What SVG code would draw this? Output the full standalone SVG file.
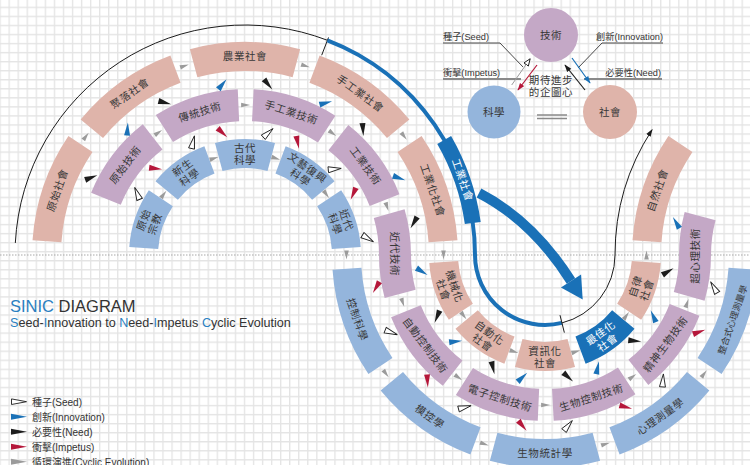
<svg xmlns="http://www.w3.org/2000/svg" width="750" height="465" viewBox="0 0 750 465">
<style>
.soc{fill:#dfb4aa}.tec{fill:#c4a8c6}.sci{fill:#94b5dc}.acc{fill:#1a71b7}
.lb{font-family:"Noto Sans CJK TC","Noto Sans CJK SC",sans-serif;font-size:10.5px;fill:#383838;text-anchor:middle;letter-spacing:0.6px}
.sm{font-size:9px;letter-spacing:0.1px}
.wt{fill:#fff}
.g{fill:#9b9b9b}.bl{fill:#1a71b7}.bk{fill:#1c1c1c}.rd{fill:#b5173a}.sd{fill:#fff;stroke:#1c1c1c;stroke-width:0.9px}
.lat{font-family:"Liberation Sans","Noto Sans CJK TC",sans-serif;fill:#333}
.ins{font-family:"Liberation Sans","Noto Sans CJK TC",sans-serif;fill:#333;font-size:9.2px}
</style>
<defs>
<pattern id="grid" width="9.05" height="9.05" patternUnits="userSpaceOnUse" x="-0.55" y="6.65">
<path d="M0,0.65 H9.05 M0.65,0 V9.05" stroke="#e4e4e4" stroke-width="1.3" fill="none"/>
</pattern>
<path id="segO" d="M205.74,-55.13 A213,213 0 0 1 205.74,55.13 L177.73,47.62 A184,184 0 0 0 177.73,-47.62 Z"/>
<path id="segM" d="M160.34,-42.96 A166,166 0 0 1 160.34,42.96 L129.43,34.68 A134,134 0 0 0 129.43,-34.68 Z"/>
<path id="segI" d="M112.05,-30.02 A116,116 0 0 1 112.05,30.02 L84.04,22.52 A87,87 0 0 0 84.04,-22.52 Z"/>
<polygon id="ga" points="-4.5,-2.3 4.5,0 -4.5,2.3"/>
<polygon id="ca" points="-6.5,-3 6.5,0 -6.5,3"/>
<marker id="mK" viewBox="0 0 10 8" refX="9" refY="4" markerWidth="8" markerHeight="6" orient="auto" markerUnits="userSpaceOnUse"><path d="M0,0.5 L10,4 L0,7.5 Z" fill="#1c1c1c"/></marker>
<marker id="mS" viewBox="0 0 10 8" refX="9" refY="4" markerWidth="8" markerHeight="6.4" orient="auto" markerUnits="userSpaceOnUse"><path d="M0.6,0.6 L9.4,4 L0.6,7.4 Z" fill="#fff" stroke="#1c1c1c" stroke-width="1.1"/></marker>
<marker id="mR" viewBox="0 0 10 8" refX="9" refY="4" markerWidth="8" markerHeight="6" orient="auto" markerUnits="userSpaceOnUse"><path d="M0,0.5 L10,4 L0,7.5 Z" fill="#b5173a"/></marker>
<marker id="mB" viewBox="0 0 10 8" refX="9" refY="4" markerWidth="8" markerHeight="6" orient="auto" markerUnits="userSpaceOnUse"><path d="M0,0.5 L10,4 L0,7.5 Z" fill="#1a71b7"/></marker>
</defs>

<rect width="750" height="465" fill="#fff"/>
<rect width="750" height="465" fill="url(#grid)"/>
<line x1="0" y1="255" x2="750" y2="255" stroke="#a8a8a8" stroke-width="1.1" stroke-dasharray="1.5 1.5"/>

<!-- title & legend -->
<g id="title">
<text class="lat" x="10" y="311.7" font-size="16.5"><tspan fill="#2a7fc1">SINIC</tspan> DIAGRAM</text>
<text class="lat" x="10" y="326.7" font-size="12.6"><tspan fill="#2a7fc1">S</tspan>eed-<tspan fill="#2a7fc1">I</tspan>nnovation to <tspan fill="#2a7fc1">N</tspan>eed-<tspan fill="#2a7fc1">I</tspan>mpetus <tspan fill="#2a7fc1">C</tspan>yclic Evolution</text>
</g>
<g id="legend">
<polygon class="sd" points="11.5,398.9 26.5,401.7 11.5,404.5"/>
<polygon class="bl" points="11,413.7 27,416.7 11,419.7"/>
<polygon class="bk" points="11,428.7 27,431.7 11,434.7"/>
<polygon class="rd" points="11,443.7 27,446.7 11,449.7"/>
<polygon class="g" points="11,458.7 27,461.7 11,464.7"/>
<text class="lat" x="32" y="405.5" font-size="10">種子(Seed)</text>
<text class="lat" x="32" y="420.5" font-size="10">創新(Innovation)</text>
<text class="lat" x="32" y="435.5" font-size="10">必要性(Need)</text>
<text class="lat" x="32" y="450.5" font-size="10">衝擊(Impetus)</text>
<text class="lat" x="32" y="465.5" font-size="10">循環演進(Cyclic Evolution)</text>
</g>

<!-- inset -->
<g id="inset-tech"><circle cx="551" cy="35" r="27" class="tec"/><text class="lb" x="551" y="39" font-size="11">技術</text></g>
<g id="inset-sci"><circle cx="494" cy="112" r="26.5" class="sci"/><text class="lb" x="494" y="116" font-size="11">科學</text></g>
<g id="inset-soc"><circle cx="610" cy="112" r="27" class="soc"/><text class="lb" x="610" y="116" font-size="11">社會</text></g>
<g id="inset-labels">
<text class="ins" x="443" y="40">種子(Seed)</text>
<text class="ins" x="443" y="76">衝擊(Impetus)</text>
<text class="ins" x="663" y="40" text-anchor="end">創新(Innovation)</text>
<text class="ins" x="661" y="76" text-anchor="end">必要性(Need)</text>
<text class="lb" font-size="9" letter-spacing="0.3"><tspan x="551" y="83.5">期待進步</tspan><tspan x="551" y="96">的企圖心</tspan></text>
</g>
<g id="inset-connectors" fill="none">
<path d="M443,43 H500 L523,67" stroke="#1c1c1c" stroke-width="0.8"/>
<path d="M663,43 H602 L578,68" stroke="#1c1c1c" stroke-width="0.8"/>
<path d="M443,79 H521" stroke="#8a8a8a" stroke-width="2"/>
<path d="M584,79 H662" stroke="#8a8a8a" stroke-width="2"/>
<path d="M537,115 H567 M537,118.5 H567" stroke="#8a8a8a" stroke-width="1.4"/>
<path d="M511.7,85 L530,59" stroke="#9b9b9b" stroke-width="1" marker-end="url(#mS)"/>
<path d="M537,65 L518,90" stroke="#b5173a" stroke-width="1.2" marker-end="url(#mR)"/>
<path d="M572,58 L590,83" stroke="#1a71b7" stroke-width="1.2" marker-end="url(#mB)"/>
<path d="M585,90 L565,65" stroke="#1c1c1c" stroke-width="1.2" marker-end="url(#mK)"/>
</g>

<!-- era lines -->
<g id="era-lines" fill="none">
<path d="M15.32,242.96 A230,230 0 0 1 327.42,40.28" stroke="#1c1c1c" stroke-width="1"/>
<path d="M321.69,55.21 L328.5,37.48" stroke="#1c1c1c" stroke-width="1"/>
<path d="M327.42,40.28 A230,230 0 0 1 475,255 A70,70 0 0 0 561.93,322.92" stroke="#1a71b7" stroke-width="4"/>
<path d="M561.93,322.92 A70,70 0 0 0 615,255 A230,230 0 0 1 652.11,129.73" stroke="#1c1c1c" stroke-width="1" marker-end="url(#mK)"/>
<path d="M560,315.16 L564.35,332.62" stroke="#1c1c1c" stroke-width="1"/>
<path d="M479,193 Q533,221 571,281" stroke="#1a71b7" stroke-width="10"/>
<polygon points="560.9,287.4 582.7,299.6 581.1,274.6" fill="#1a71b7"/>
</g>
<g id="n-industrial-era"><path d="M451.11,136 A238,238 0 0 1 480.69,221.88 L464.84,224.1 A222,222 0 0 0 437.26,144 Z" class="acc"/><text class="lb wt" transform="translate(462.5,180.1) rotate(71)" y="3.6" font-size="10">工業社會</text></g>

<!-- upper-left: society (outer) -->
<g id="n-s0" transform="translate(245,255) rotate(-161)"><use href="#segO" class="soc"/><text class="lb" transform="translate(198.5,0) rotate(90)" y="3.8">原始社會</text></g>
<g id="n-s1" transform="translate(245,255) rotate(-125.5)"><use href="#segO" class="soc"/><text class="lb" transform="translate(198.5,0) rotate(90)" y="3.8">聚落社會</text></g>
<g id="n-s2" transform="translate(245,255) rotate(-90)"><use href="#segO" class="soc"/><text class="lb" transform="translate(198.5,0) rotate(90)" y="3.8">農業社會</text></g>
<g id="n-s3" transform="translate(245,255) rotate(-54.5)"><use href="#segO" class="soc"/><text class="lb" transform="translate(198.5,0) rotate(90)" y="3.8">手工業社會</text></g>
<g id="n-s4" transform="translate(245,255) rotate(-19)"><use href="#segO" class="soc"/><text class="lb" transform="translate(198.5,0) rotate(90)" y="3.8">工業化社會</text></g>
<!-- upper-left: technology -->
<g id="n-t0" transform="translate(245,255) rotate(-143)"><use href="#segM" class="tec"/><text class="lb" transform="translate(150,0) rotate(90)" y="3.8">原始技術</text></g>
<g id="n-t1" transform="translate(245,255) rotate(-107.5)"><use href="#segM" class="tec"/><text class="lb" transform="translate(150,0) rotate(90)" y="3.8">傳統技術</text></g>
<g id="n-t2" transform="translate(245,255) rotate(-72)"><use href="#segM" class="tec"/><text class="lb" transform="translate(150,0) rotate(90)" y="3.8">手工業技術</text></g>
<g id="n-t3" transform="translate(245,255) rotate(-36.5)"><use href="#segM" class="tec"/><text class="lb" transform="translate(150,0) rotate(90)" y="3.8">工業技術</text></g>
<g id="n-t4"><path class="tec" d="M404.57,209.24 A166,166 0 0 1 411,255 A134,134 0 0 0 415.57,289.68 L384.66,297.96 A166,166 0 0 1 379,255 A134,134 0 0 0 373.81,218.06 Z"/><text class="lb" transform="translate(395,254) rotate(90)" y="3.8">近代技術</text></g>
<!-- upper-left: science (inner) -->
<g id="n-k0" transform="translate(245,255) rotate(-161)"><use href="#segI" class="sci"/><text class="lb" transform="translate(101.5,0) rotate(90)"><tspan x="0" y="-2">原始</tspan><tspan x="0" y="10">宗教</tspan></text></g>
<g id="n-k1" transform="translate(245,255) rotate(-125.5)"><use href="#segI" class="sci"/><text class="lb" transform="translate(101.5,0) rotate(90)"><tspan x="0" y="-2">新生</tspan><tspan x="0" y="10">科學</tspan></text></g>
<g id="n-k2" transform="translate(245,255) rotate(-90)"><use href="#segI" class="sci"/><text class="lb" transform="translate(101.5,0) rotate(90)"><tspan x="0" y="-2">古代</tspan><tspan x="0" y="10">科學</tspan></text></g>
<g id="n-k3" transform="translate(245,255) rotate(-54.5)"><use href="#segI" class="sci"/><text class="lb" transform="translate(101.5,0) rotate(90)"><tspan x="0" y="-2">文藝復興</tspan><tspan x="0" y="10">科學</tspan></text></g>
<g id="n-k4" transform="translate(245,255) rotate(-19)"><use href="#segI" class="sci"/><text class="lb" transform="translate(101.5,0) rotate(90)"><tspan x="0" y="-2">近代</tspan><tspan x="0" y="10">科學</tspan></text></g>

<!-- lower-right: society (inner) -->
<g id="n-s5" transform="translate(545,255) rotate(161)"><use href="#segI" class="soc"/><text class="lb" transform="translate(101.5,0) rotate(-90)"><tspan x="0" y="-2">機械化</tspan><tspan x="0" y="10">社會</tspan></text></g>
<g id="n-s6" transform="translate(545,255) rotate(125.5)"><use href="#segI" class="soc"/><text class="lb" transform="translate(101.5,0) rotate(-90)"><tspan x="0" y="-2">自動化</tspan><tspan x="0" y="10">社會</tspan></text></g>
<g id="n-s7" transform="translate(545,255) rotate(90)"><use href="#segI" class="soc"/><text class="lb" transform="translate(101.5,0) rotate(-90)"><tspan x="0" y="-2">資訊化</tspan><tspan x="0" y="10">社會</tspan></text></g>
<g id="n-s8" transform="translate(545,255) rotate(54.5)"><use href="#segI" class="acc"/><text class="lb wt" transform="translate(101.5,0) rotate(-90)"><tspan x="0" y="-2">最佳化</tspan><tspan x="0" y="10">社會</tspan></text></g>
<g id="n-s9" transform="translate(545,255) rotate(19)"><use href="#segI" class="soc"/><text class="lb" transform="translate(101.5,0) rotate(-90)"><tspan x="0" y="-2">自律</tspan><tspan x="0" y="10">社會</tspan></text></g>
<g id="n-s10" transform="translate(845,255) rotate(-161)"><use href="#segO" class="soc"/><text class="lb" transform="translate(198.5,0) rotate(90)" y="3.8">自然社會</text></g>
<!-- lower-right: technology -->
<g id="n-t5" transform="translate(545,255) rotate(143)"><use href="#segM" class="tec"/><text class="lb" transform="translate(150,0) rotate(-90)" y="3.8">自動控制技術</text></g>
<g id="n-t6" transform="translate(545,255) rotate(107.5)"><use href="#segM" class="tec"/><text class="lb" transform="translate(150,0) rotate(-90)" y="3.8">電子控制技術</text></g>
<g id="n-t7" transform="translate(545,255) rotate(72)"><use href="#segM" class="tec"/><text class="lb" transform="translate(150,0) rotate(-90)" y="3.8">生物控制技術</text></g>
<g id="n-t8" transform="translate(545,255) rotate(36.5)"><use href="#segM" class="tec"/><text class="lb" transform="translate(150,0) rotate(-90)" y="3.8">精神生物技術</text></g>
<g id="n-t9"><path class="tec" d="M704.57,300.76 A166,166 0 0 0 711,255 A134,134 0 0 1 715.57,220.32 L684.66,212.04 A166,166 0 0 0 679,255 A134,134 0 0 1 673.81,291.94 Z"/><text class="lb" transform="translate(695,256) rotate(-90)" y="3.8">超心理技術</text></g>
<!-- lower-right: science (outer) -->
<g id="n-k5" transform="translate(545,255) rotate(161)"><use href="#segO" class="sci"/><text class="lb" transform="translate(198.5,0) rotate(-90)" y="3.8">控制科學</text></g>
<g id="n-k6" transform="translate(545,255) rotate(125.5)"><use href="#segO" class="sci"/><text class="lb" transform="translate(198.5,0) rotate(-90)" y="3.8">模控學</text></g>
<g id="n-k7" transform="translate(545,255) rotate(90)"><use href="#segO" class="sci"/><text class="lb" transform="translate(198.5,0) rotate(-90)" y="3.8">生物統計學</text></g>
<g id="n-k8" transform="translate(545,255) rotate(54.5)"><use href="#segO" class="sci"/><text class="lb" transform="translate(198.5,0) rotate(-90)" y="3.8">心理測量學</text></g>
<g id="n-k9" transform="translate(545,255) rotate(19)"><use href="#segO" class="sci"/><text class="lb sm" transform="translate(198.5,0) rotate(-90)" y="3.3">整合式心理測量學</text></g>

<!-- connectors -->
<g id="connectors">
<g id="cyclic">
<use href="#ga" class="g" transform="translate(245,255) rotate(-143.25) translate(198.5,0) rotate(90)"/>
<use href="#ga" class="g" transform="translate(245,255) rotate(-107.75) translate(198.5,0) rotate(90)"/>
<use href="#ga" class="g" transform="translate(245,255) rotate(-72.25) translate(198.5,0) rotate(90)"/>
<use href="#ga" class="g" transform="translate(245,255) rotate(-36.75) translate(198.5,0) rotate(90)"/>
<use href="#ga" class="g" transform="translate(443.5,255) rotate(90)"/>
<use href="#ga" class="g" transform="translate(245,255) rotate(-125.25) translate(150,0) rotate(90)"/>
<use href="#ga" class="g" transform="translate(245,255) rotate(-89.75) translate(150,0) rotate(90)"/>
<use href="#ga" class="g" transform="translate(245,255) rotate(-54.25) translate(150,0) rotate(90)"/>
<use href="#ga" class="g" transform="translate(245,255) rotate(-18.75) translate(150,0) rotate(90)"/>
<use href="#ga" class="g" transform="translate(545,255) rotate(161.5) translate(150,0) rotate(-90)"/>
<use href="#ga" class="g" transform="translate(245,255) rotate(-143.25) translate(101.5,0) rotate(90)"/>
<use href="#ga" class="g" transform="translate(245,255) rotate(-107.75) translate(101.5,0) rotate(90)"/>
<use href="#ga" class="g" transform="translate(245,255) rotate(-72.25) translate(101.5,0) rotate(90)"/>
<use href="#ga" class="g" transform="translate(245,255) rotate(-36.75) translate(101.5,0) rotate(90)"/>
<use href="#ga" class="g" transform="translate(346.5,255) rotate(90)"/>
<use href="#ga" class="g" transform="translate(545,255) rotate(143.25) translate(101.5,0) rotate(-90)"/>
<use href="#ga" class="g" transform="translate(545,255) rotate(107.75) translate(101.5,0) rotate(-90)"/>
<use href="#ga" class="g" transform="translate(545,255) rotate(72.25) translate(101.5,0) rotate(-90)"/>
<use href="#ga" class="g" transform="translate(545,255) rotate(36.75) translate(101.5,0) rotate(-90)"/>
<use href="#ga" class="g" transform="translate(646.5,255) rotate(-90)"/>
<use href="#ga" class="g" transform="translate(545,255) rotate(125.25) translate(150,0) rotate(-90)"/>
<use href="#ga" class="g" transform="translate(545,255) rotate(89.75) translate(150,0) rotate(-90)"/>
<use href="#ga" class="g" transform="translate(545,255) rotate(54.25) translate(150,0) rotate(-90)"/>
<use href="#ga" class="g" transform="translate(545,255) rotate(18.75) translate(150,0) rotate(-90)"/>
<use href="#ga" class="g" transform="translate(545,255) rotate(143.25) translate(198.5,0) rotate(-90)"/>
<use href="#ga" class="g" transform="translate(545,255) rotate(107.75) translate(198.5,0) rotate(-90)"/>
<use href="#ga" class="g" transform="translate(545,255) rotate(72.25) translate(198.5,0) rotate(-90)"/>
<use href="#ga" class="g" transform="translate(545,255) rotate(36.75) translate(198.5,0) rotate(-90)"/>
</g>
<g id="need">
<use href="#ca" class="bk" transform="translate(91.26,177.55) rotate(-20.7)"/>
<use href="#ca" class="bk" transform="translate(164.81,102.67) rotate(14.8)"/>
<use href="#ca" class="bk" transform="translate(268.18,84.42) rotate(50.3)"/>
<use href="#ca" class="bk" transform="translate(362.93,129.59) rotate(85.8)"/>
<use href="#ca" class="bk" transform="translate(413.85,222.69) rotate(120.3)"/>
<use href="#ca" class="bk" transform="translate(437.12,316.66) rotate(112.6)"/>
<use href="#ca" class="bk" transform="translate(492.98,367.85) rotate(77.1)"/>
<use href="#ca" class="bk" transform="translate(568.18,377.08) rotate(41.6)"/>
<use href="#ca" class="bk" transform="translate(634.76,340.93) rotate(6.1)"/>
<use href="#ca" class="bk" transform="translate(667.99,271.53) rotate(-31.5)"/>
</g>
<g id="innovation">
<use href="#ca" class="bl" transform="translate(127.47,129.07) rotate(-86.4)"/>
<use href="#ca" class="bl" transform="translate(222.45,84.22) rotate(-50.9)"/>
<use href="#ca" class="bl" transform="translate(325.81,102.87) rotate(-15.4)"/>
<use href="#ca" class="bl" transform="translate(399.14,178.08) rotate(20.1)"/>
<use href="#ca" class="bl" transform="translate(422.02,271.53) rotate(31.5)"/>
<use href="#ca" class="bl" transform="translate(455.63,341.45) rotate(-7.2)"/>
<use href="#ca" class="bl" transform="translate(522.45,377.28) rotate(-42.7)"/>
<use href="#ca" class="bl" transform="translate(597.65,367.65) rotate(-78.2)"/>
<use href="#ca" class="bl" transform="translate(653.28,316.14) rotate(-113.7)"/>
<use href="#ca" class="bl" transform="translate(676.16,222.69) rotate(-120.3)"/>
</g>
<g id="seed">
<use href="#ca" class="sd" transform="translate(137.12,193.34) rotate(-112.6)"/>
<use href="#ca" class="sd" transform="translate(192.98,142.16) rotate(-77.1)"/>
<use href="#ca" class="sd" transform="translate(268.18,132.92) rotate(-41.6)"/>
<use href="#ca" class="sd" transform="translate(334.76,169.08) rotate(-6.1)"/>
<use href="#ca" class="sd" transform="translate(367.99,238.48) rotate(31.5)"/>
<use href="#ca" class="sd" transform="translate(391.26,332.45) rotate(20.7)"/>
<use href="#ca" class="sd" transform="translate(464.81,407.33) rotate(-14.8)"/>
<use href="#ca" class="sd" transform="translate(568.18,425.58) rotate(-50.3)"/>
<use href="#ca" class="sd" transform="translate(662.93,380.41) rotate(-85.8)"/>
<use href="#ca" class="sd" transform="translate(713.85,287.32) rotate(-120.3)"/>
</g>
<g id="impetus">
<use href="#ca" class="rd" transform="translate(155.63,168.55) rotate(7.2)"/>
<use href="#ca" class="rd" transform="translate(222.45,132.72) rotate(42.7)"/>
<use href="#ca" class="rd" transform="translate(297.65,142.36) rotate(78.2)"/>
<use href="#ca" class="rd" transform="translate(353.28,193.87) rotate(113.7)"/>
<use href="#ca" class="rd" transform="translate(376.16,287.32) rotate(120.3)"/>
<use href="#ca" class="rd" transform="translate(427.47,380.94) rotate(86.4)"/>
<use href="#ca" class="rd" transform="translate(522.45,425.78) rotate(50.9)"/>
<use href="#ca" class="rd" transform="translate(625.81,407.13) rotate(15.4)"/>
<use href="#ca" class="rd" transform="translate(699.14,331.93) rotate(-20.1)"/>
</g>
</g>
</svg>
